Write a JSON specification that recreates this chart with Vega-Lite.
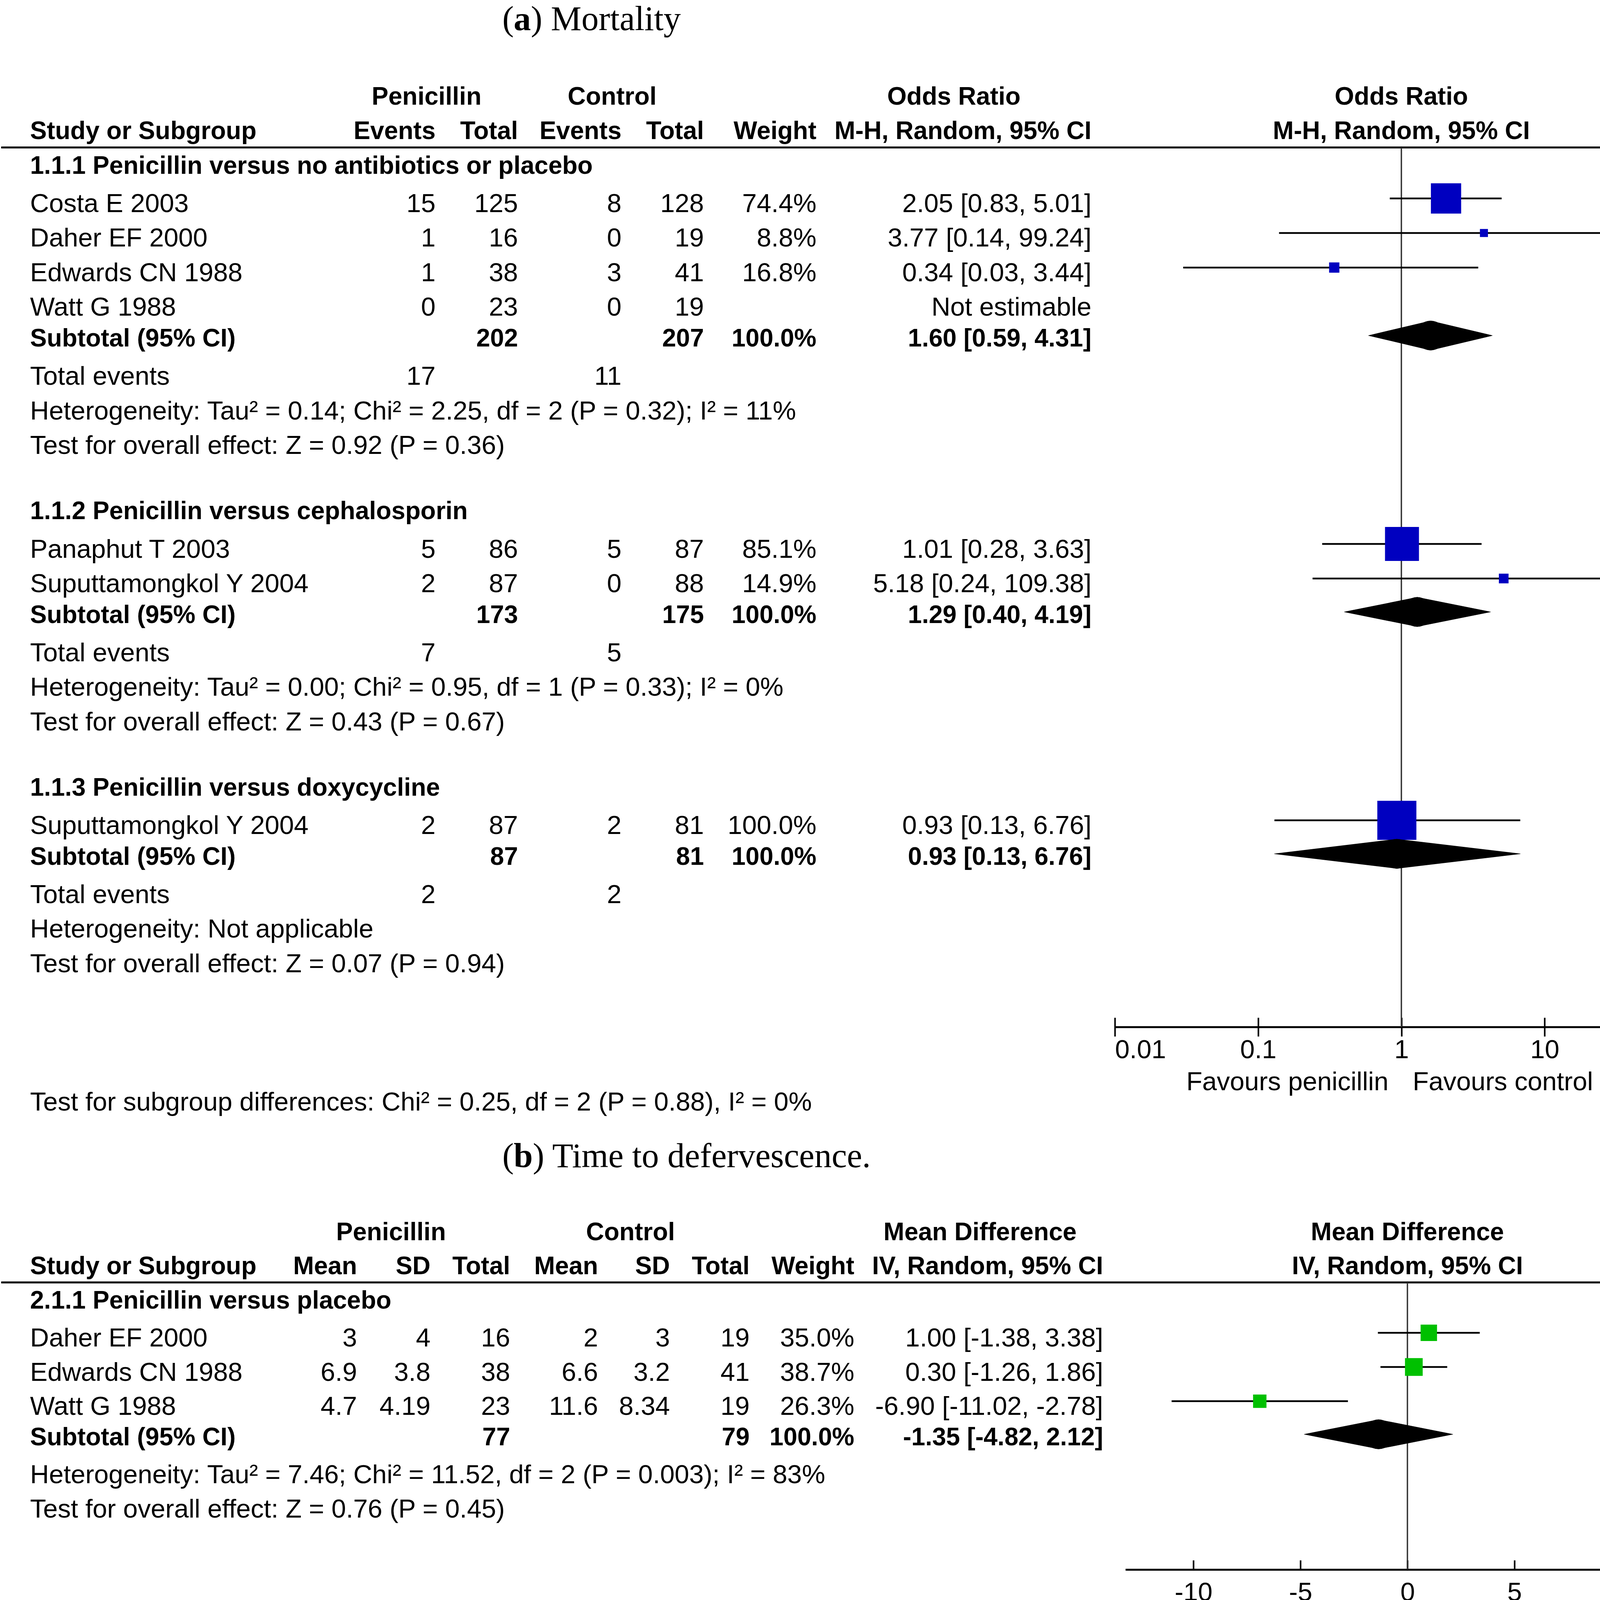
{
  "$schema": "https://vega.github.io/schema/vega-lite/v6.json",
  "width": 4404,
  "height": 5250,
  "autosize": {"type": "fit", "contains": "padding"},
  "padding": 0,
  "background": "white",
  "config": {"view": {"stroke": null}, "axis": {"grid": false}},
  "datasets": {
    "cellsA": [
      {"r": -4.34, "c": 10, "t": "(", "k": "ti"},
      {"r": -4.34, "c": 11, "t": "a", "k": "tb"},
      {"r": -4.34, "c": 12, "t": ") Mortality", "k": "ti"},
      {"r": -2.1, "c": 7, "t": "Penicillin", "k": "hg"},
      {"r": -2.1, "c": 8, "t": "Control", "k": "hg"},
      {"r": -2.1, "c": 9, "t": "Odds Ratio", "k": "hg"},
      {"r": -2.1, "t": "Odds Ratio", "k": "ph"},
      {"r": -1.1, "c": 0, "t": "Study or Subgroup", "k": "hd"},
      {"r": -1.1, "c": 1, "t": "Events", "k": "hd"},
      {"r": -1.1, "c": 2, "t": "Total", "k": "hd"},
      {"r": -1.1, "c": 3, "t": "Events", "k": "hd"},
      {"r": -1.1, "c": 4, "t": "Total", "k": "hd"},
      {"r": -1.1, "c": 5, "t": "Weight", "k": "hd"},
      {"r": -1.1, "c": 6, "t": "M-H, Random, 95% CI", "k": "hd"},
      {"r": -1.1, "t": "M-H, Random, 95% CI", "k": "ph"},
      {"r": -0.6, "k": "rule"},
      {"r": -0.6, "r2": 24.855, "k": "zero"},
      {"r": -0.1, "c": 0, "t": "1.1.1 Penicillin versus no antibiotics or placebo", "k": "sg"},
      {"r": 1, "c": 0, "t": "Costa E 2003", "k": "st"},
      {"r": 1, "c": 1, "t": "15", "k": "st"},
      {"r": 1, "c": 2, "t": "125", "k": "st"},
      {"r": 1, "c": 3, "t": "8", "k": "st"},
      {"r": 1, "c": 4, "t": "128", "k": "st"},
      {"r": 1, "c": 5, "t": "74.4%", "k": "st"},
      {"r": 1, "c": 6, "t": "2.05 [0.83, 5.01]", "k": "st"},
      {"r": 2, "c": 0, "t": "Daher EF 2000", "k": "st"},
      {"r": 2, "c": 1, "t": "1", "k": "st"},
      {"r": 2, "c": 2, "t": "16", "k": "st"},
      {"r": 2, "c": 3, "t": "0", "k": "st"},
      {"r": 2, "c": 4, "t": "19", "k": "st"},
      {"r": 2, "c": 5, "t": "8.8%", "k": "st"},
      {"r": 2, "c": 6, "t": "3.77 [0.14, 99.24]", "k": "st"},
      {"r": 3, "c": 0, "t": "Edwards CN 1988", "k": "st"},
      {"r": 3, "c": 1, "t": "1", "k": "st"},
      {"r": 3, "c": 2, "t": "38", "k": "st"},
      {"r": 3, "c": 3, "t": "3", "k": "st"},
      {"r": 3, "c": 4, "t": "41", "k": "st"},
      {"r": 3, "c": 5, "t": "16.8%", "k": "st"},
      {"r": 3, "c": 6, "t": "0.34 [0.03, 3.44]", "k": "st"},
      {"r": 4, "c": 0, "t": "Watt G 1988", "k": "st"},
      {"r": 4, "c": 1, "t": "0", "k": "st"},
      {"r": 4, "c": 2, "t": "23", "k": "st"},
      {"r": 4, "c": 3, "t": "0", "k": "st"},
      {"r": 4, "c": 4, "t": "19", "k": "st"},
      {"r": 4, "c": 6, "t": "Not estimable", "k": "st"},
      {"r": 4.9, "c": 0, "t": "Subtotal (95% CI)", "k": "sub"},
      {"r": 4.9, "c": 2, "t": "202", "k": "sub"},
      {"r": 4.9, "c": 4, "t": "207", "k": "sub"},
      {"r": 4.9, "c": 5, "t": "100.0%", "k": "sub"},
      {"r": 4.9, "c": 6, "t": "1.60 [0.59, 4.31]", "k": "sub"},
      {"r": 6, "c": 0, "t": "Total events", "k": "ev"},
      {"r": 6, "c": 1, "t": "17", "k": "ev"},
      {"r": 6, "c": 3, "t": "11", "k": "ev"},
      {"r": 7, "c": 0, "t": "Heterogeneity: Tau² = 0.14; Chi² = 2.25, df = 2 (P = 0.32); I² = 11%", "k": "nt"},
      {"r": 8, "c": 0, "t": "Test for overall effect: Z = 0.92 (P = 0.36)", "k": "nt"},
      {"r": 9.9, "c": 0, "t": "1.1.2 Penicillin versus cephalosporin", "k": "sg"},
      {"r": 11, "c": 0, "t": "Panaphut T 2003", "k": "st"},
      {"r": 11, "c": 1, "t": "5", "k": "st"},
      {"r": 11, "c": 2, "t": "86", "k": "st"},
      {"r": 11, "c": 3, "t": "5", "k": "st"},
      {"r": 11, "c": 4, "t": "87", "k": "st"},
      {"r": 11, "c": 5, "t": "85.1%", "k": "st"},
      {"r": 11, "c": 6, "t": "1.01 [0.28, 3.63]", "k": "st"},
      {"r": 12, "c": 0, "t": "Suputtamongkol Y 2004", "k": "st"},
      {"r": 12, "c": 1, "t": "2", "k": "st"},
      {"r": 12, "c": 2, "t": "87", "k": "st"},
      {"r": 12, "c": 3, "t": "0", "k": "st"},
      {"r": 12, "c": 4, "t": "88", "k": "st"},
      {"r": 12, "c": 5, "t": "14.9%", "k": "st"},
      {"r": 12, "c": 6, "t": "5.18 [0.24, 109.38]", "k": "st"},
      {"r": 12.9, "c": 0, "t": "Subtotal (95% CI)", "k": "sub"},
      {"r": 12.9, "c": 2, "t": "173", "k": "sub"},
      {"r": 12.9, "c": 4, "t": "175", "k": "sub"},
      {"r": 12.9, "c": 5, "t": "100.0%", "k": "sub"},
      {"r": 12.9, "c": 6, "t": "1.29 [0.40, 4.19]", "k": "sub"},
      {"r": 14, "c": 0, "t": "Total events", "k": "ev"},
      {"r": 14, "c": 1, "t": "7", "k": "ev"},
      {"r": 14, "c": 3, "t": "5", "k": "ev"},
      {"r": 15, "c": 0, "t": "Heterogeneity: Tau² = 0.00; Chi² = 0.95, df = 1 (P = 0.33); I² = 0%", "k": "nt"},
      {"r": 16, "c": 0, "t": "Test for overall effect: Z = 0.43 (P = 0.67)", "k": "nt"},
      {"r": 17.9, "c": 0, "t": "1.1.3 Penicillin versus doxycycline", "k": "sg"},
      {"r": 19, "c": 0, "t": "Suputtamongkol Y 2004", "k": "st"},
      {"r": 19, "c": 1, "t": "2", "k": "st"},
      {"r": 19, "c": 2, "t": "87", "k": "st"},
      {"r": 19, "c": 3, "t": "2", "k": "st"},
      {"r": 19, "c": 4, "t": "81", "k": "st"},
      {"r": 19, "c": 5, "t": "100.0%", "k": "st"},
      {"r": 19, "c": 6, "t": "0.93 [0.13, 6.76]", "k": "st"},
      {"r": 19.9, "c": 0, "t": "Subtotal (95% CI)", "k": "sub"},
      {"r": 19.9, "c": 2, "t": "87", "k": "sub"},
      {"r": 19.9, "c": 4, "t": "81", "k": "sub"},
      {"r": 19.9, "c": 5, "t": "100.0%", "k": "sub"},
      {"r": 19.9, "c": 6, "t": "0.93 [0.13, 6.76]", "k": "sub"},
      {"r": 21, "c": 0, "t": "Total events", "k": "ev"},
      {"r": 21, "c": 1, "t": "2", "k": "ev"},
      {"r": 21, "c": 3, "t": "2", "k": "ev"},
      {"r": 22, "c": 0, "t": "Heterogeneity: Not applicable", "k": "nt"},
      {"r": 23, "c": 0, "t": "Test for overall effect: Z = 0.07 (P = 0.94)", "k": "nt"},
      {"r": 27, "c": 0, "t": "Test for subgroup differences: Chi² = 0.25, df = 2 (P = 0.88), I² = 0%", "k": "nt"},
      {"r": 26.42, "c": 0, "t": "Favours penicillin", "k": "fav"},
      {"r": 26.42, "c": 1, "t": "Favours control", "k": "fav"}
    ],
    "studA": [
      {"r": 1, "est": 2.05, "lo": 0.83, "hi": 5.01, "w": 74.4},
      {"r": 2, "est": 3.77, "lo": 0.14, "hi": 99.24, "w": 8.8},
      {"r": 3, "est": 0.34, "lo": 0.03, "hi": 3.44, "w": 16.8},
      {"r": 11, "est": 1.01, "lo": 0.28, "hi": 3.63, "w": 85.1},
      {"r": 12, "est": 5.18, "lo": 0.24, "hi": 109.38, "w": 14.9},
      {"r": 19, "est": 0.93, "lo": 0.13, "hi": 6.76, "w": 100}
    ],
    "sumA": [
      {"r": 4.9, "est": 1.6, "lo": 0.59, "hi": 4.31},
      {"r": 12.9, "est": 1.29, "lo": 0.4, "hi": 4.19},
      {"r": 19.9, "est": 0.93, "lo": 0.13, "hi": 6.76}
    ],
    "cellsB": [
      {"r": -4.31, "c": 12, "t": "(", "k": "ti"},
      {"r": -4.31, "c": 13, "t": "b", "k": "tb"},
      {"r": -4.31, "c": 14, "t": ") Time to defervescence.", "k": "ti"},
      {"r": -2.1, "c": 9, "t": "Penicillin", "k": "hg"},
      {"r": -2.1, "c": 10, "t": "Control", "k": "hg"},
      {"r": -2.1, "c": 11, "t": "Mean Difference", "k": "hg"},
      {"r": -2.1, "t": "Mean Difference", "k": "ph"},
      {"r": -1.1, "c": 0, "t": "Study or Subgroup", "k": "hd"},
      {"r": -1.1, "c": 1, "t": "Mean", "k": "hd"},
      {"r": -1.1, "c": 2, "t": "SD", "k": "hd"},
      {"r": -1.1, "c": 3, "t": "Total", "k": "hd"},
      {"r": -1.1, "c": 4, "t": "Mean", "k": "hd"},
      {"r": -1.1, "c": 5, "t": "SD", "k": "hd"},
      {"r": -1.1, "c": 6, "t": "Total", "k": "hd"},
      {"r": -1.1, "c": 7, "t": "Weight", "k": "hd"},
      {"r": -1.1, "c": 8, "t": "IV, Random, 95% CI", "k": "hd"},
      {"r": -1.1, "t": "IV, Random, 95% CI", "k": "ph"},
      {"r": -0.6, "k": "rule"},
      {"r": -0.6, "r2": 7.8, "k": "zero"},
      {"r": -0.1, "c": 0, "t": "2.1.1 Penicillin versus placebo", "k": "sg"},
      {"r": 1, "c": 0, "t": "Daher EF 2000", "k": "st"},
      {"r": 1, "c": 1, "t": "3", "k": "st"},
      {"r": 1, "c": 2, "t": "4", "k": "st"},
      {"r": 1, "c": 3, "t": "16", "k": "st"},
      {"r": 1, "c": 4, "t": "2", "k": "st"},
      {"r": 1, "c": 5, "t": "3", "k": "st"},
      {"r": 1, "c": 6, "t": "19", "k": "st"},
      {"r": 1, "c": 7, "t": "35.0%", "k": "st"},
      {"r": 1, "c": 8, "t": "1.00 [-1.38, 3.38]", "k": "st"},
      {"r": 2, "c": 0, "t": "Edwards CN 1988", "k": "st"},
      {"r": 2, "c": 1, "t": "6.9", "k": "st"},
      {"r": 2, "c": 2, "t": "3.8", "k": "st"},
      {"r": 2, "c": 3, "t": "38", "k": "st"},
      {"r": 2, "c": 4, "t": "6.6", "k": "st"},
      {"r": 2, "c": 5, "t": "3.2", "k": "st"},
      {"r": 2, "c": 6, "t": "41", "k": "st"},
      {"r": 2, "c": 7, "t": "38.7%", "k": "st"},
      {"r": 2, "c": 8, "t": "0.30 [-1.26, 1.86]", "k": "st"},
      {"r": 3, "c": 0, "t": "Watt G 1988", "k": "st"},
      {"r": 3, "c": 1, "t": "4.7", "k": "st"},
      {"r": 3, "c": 2, "t": "4.19", "k": "st"},
      {"r": 3, "c": 3, "t": "23", "k": "st"},
      {"r": 3, "c": 4, "t": "11.6", "k": "st"},
      {"r": 3, "c": 5, "t": "8.34", "k": "st"},
      {"r": 3, "c": 6, "t": "19", "k": "st"},
      {"r": 3, "c": 7, "t": "26.3%", "k": "st"},
      {"r": 3, "c": 8, "t": "-6.90 [-11.02, -2.78]", "k": "st"},
      {"r": 3.9, "c": 0, "t": "Subtotal (95% CI)", "k": "sub"},
      {"r": 3.9, "c": 3, "t": "77", "k": "sub"},
      {"r": 3.9, "c": 6, "t": "79", "k": "sub"},
      {"r": 3.9, "c": 7, "t": "100.0%", "k": "sub"},
      {"r": 3.9, "c": 8, "t": "-1.35 [-4.82, 2.12]", "k": "sub"},
      {"r": 5, "c": 0, "t": "Heterogeneity: Tau² = 7.46; Chi² = 11.52, df = 2 (P = 0.003); I² = 83%", "k": "nt"},
      {"r": 6, "c": 0, "t": "Test for overall effect: Z = 0.76 (P = 0.45)", "k": "nt"},
      {"r": 9.95, "c": 0, "t": "Test for subgroup differences: Not applicable", "k": "nt"},
      {"r": 9.32, "c": 0, "t": "Favours penicillin", "k": "fav"},
      {"r": 9.32, "c": 1, "t": "Favours control", "k": "fav"}
    ],
    "studB": [
      {"r": 1, "est": 1.0, "lo": -1.38, "hi": 3.38, "w": 35.0},
      {"r": 2, "est": 0.3, "lo": -1.26, "hi": 1.86, "w": 38.7},
      {"r": 3, "est": -6.9, "lo": -11.02, "hi": -2.78, "w": 26.3}
    ],
    "sumB": [
      {"r": 3.9, "est": -1.35, "lo": -4.82, "hi": 2.12}
    ],
    "cellsC": [
      {"r": -3.39, "c": 12, "t": "(", "k": "ti"},
      {"r": -3.39, "c": 13, "t": "c", "k": "tb"},
      {"r": -3.39, "c": 14, "t": ") Hospital stay.", "k": "ti"},
      {"r": -1.1, "c": 9, "t": "Penicillin", "k": "hg"},
      {"r": -1.1, "c": 10, "t": "Control", "k": "hg"},
      {"r": -1.1, "c": 11, "t": "Mean Difference", "k": "hg"},
      {"r": -1.1, "t": "Mean Difference", "k": "ph"},
      {"r": -0.1, "c": 0, "t": "Study or Subgroup", "k": "hd"},
      {"r": -0.1, "c": 1, "t": "Mean", "k": "hd"},
      {"r": -0.1, "c": 2, "t": "SD", "k": "hd"},
      {"r": -0.1, "c": 3, "t": "Total", "k": "hd"},
      {"r": -0.1, "c": 4, "t": "Mean", "k": "hd"},
      {"r": -0.1, "c": 5, "t": "SD", "k": "hd"},
      {"r": -0.1, "c": 6, "t": "Total", "k": "hd"},
      {"r": -0.1, "c": 7, "t": "Weight", "k": "hd"},
      {"r": -0.1, "c": 8, "t": "IV, Random, 95% CI", "k": "hd"},
      {"r": -0.1, "t": "IV, Random, 95% CI", "k": "ph"},
      {"r": 0.4, "k": "rule"},
      {"r": 0.4, "r2": 4.92, "k": "zero"},
      {"r": 1, "c": 0, "t": "Costa E 2003", "k": "st"},
      {"r": 1, "c": 1, "t": "8.9", "k": "st"},
      {"r": 1, "c": 2, "t": "3.9", "k": "st"},
      {"r": 1, "c": 3, "t": "120", "k": "st"},
      {"r": 1, "c": 4, "t": "8.8", "k": "st"},
      {"r": 1, "c": 5, "t": "3.6", "k": "st"},
      {"r": 1, "c": 6, "t": "128", "k": "st"},
      {"r": 1, "c": 7, "t": "94.0%", "k": "st"},
      {"r": 1, "c": 8, "t": "0.10 [-0.84, 1.04]", "k": "st"},
      {"r": 2, "c": 0, "t": "Daher EF 2000", "k": "st"},
      {"r": 2, "c": 1, "t": "12", "k": "st"},
      {"r": 2, "c": 2, "t": "6", "k": "st"},
      {"r": 2, "c": 3, "t": "16", "k": "st"},
      {"r": 2, "c": 4, "t": "11", "k": "st"},
      {"r": 2, "c": 5, "t": "5", "k": "st"},
      {"r": 2, "c": 6, "t": "19", "k": "st"},
      {"r": 2, "c": 7, "t": "6.0%", "k": "st"},
      {"r": 2, "c": 8, "t": "1.00 [-2.70, 4.70]", "k": "st"},
      {"r": 3.9, "c": 0, "t": "Total (95% CI)", "k": "sub"},
      {"r": 3.9, "c": 3, "t": "136", "k": "sub"},
      {"r": 3.9, "c": 6, "t": "147", "k": "sub"},
      {"r": 3.9, "c": 7, "t": "100.0%", "k": "sub"},
      {"r": 3.9, "c": 8, "t": "0.15 [-0.75, 1.06]", "k": "sub"},
      {"r": 5, "c": 0, "t": "Heterogeneity: Tau² = 0.00; Chi² = 0.21, df = 1 (P = 0.64); I² = 0%", "k": "nt"},
      {"r": 6, "c": 0, "t": "Test for overall effect: Z = 0.33 (P = 0.74)", "k": "nt"},
      {"r": 6.41, "c": 0, "t": "Favours Penicillin", "k": "fav"},
      {"r": 6.41, "c": 1, "t": "Favours control", "k": "fav"}
    ],
    "studC": [
      {"r": 1, "est": 0.1, "lo": -0.84, "hi": 1.04, "w": 94.0},
      {"r": 2, "est": 1.0, "lo": -2.7, "hi": 4.7, "w": 6.0}
    ],
    "sumC": [
      {"r": 3.9, "est": 0.15, "lo": -0.75, "hi": 1.06}
    ]
  },
  "resolve": {"scale": {"x": "independent", "y": "independent", "size": "independent"}, "axis": {"x": "independent", "y": "independent"}},
  "layer": [
    {
      "encoding": {"y": {"field": "r", "type": "quantitative", "scale": {"domain": [-4.868, 27.693], "range": [0, 2880], "nice": false, "zero": false}, "axis": null}},
      "resolve": {"scale": {"x": "independent", "size": "independent"}, "axis": {"x": "independent"}},
      "layer": [
        {
          "data": {"name": "cellsA"},
          "layer": [
            {"transform": [{"filter": "datum.k=='rule'"}], "mark": {"type": "rule", "strokeWidth": 5, "color": "#000"}},
            {"transform": [{"filter": "(datum.k=='st'||datum.k=='ev'||datum.k=='nt')&&datum.c==0"}],
             "mark": {"type": "text", "align": "left", "baseline": "middle", "dy": 4, "font": "Liberation Sans", "fontSize": 67, "color": "#000"},
             "encoding": {"x": {"field": "c", "type": "quantitative", "scale": {"domain": [0,1,2,3,4,5,6,7,8,9,10,11,12], "range": [74,1112,1323,1588,1799,2087,2791,1089,1564,2439,1283,1312,1356], "nice": false, "zero": false}, "axis": null}, "text": {"field": "t"}}},
            {"transform": [{"filter": "(datum.k=='hd'||datum.k=='sg'||datum.k=='sub')&&datum.c==0"}],
             "mark": {"type": "text", "align": "left", "baseline": "middle", "dy": 4, "font": "Liberation Sans", "fontSize": 64, "fontWeight": "bold", "color": "#000"},
             "encoding": {"x": {"field": "c", "type": "quantitative", "axis": null}, "text": {"field": "t"}}},
            {"transform": [{"filter": "(datum.k=='st'||datum.k=='ev')&&datum.c>0"}],
             "mark": {"type": "text", "align": "right", "baseline": "middle", "dy": 4, "font": "Liberation Sans", "fontSize": 67, "color": "#000"},
             "encoding": {"x": {"field": "c", "type": "quantitative", "axis": null}, "text": {"field": "t"}}},
            {"transform": [{"filter": "(datum.k=='hd'||datum.k=='sub')&&datum.c>0"}],
             "mark": {"type": "text", "align": "right", "baseline": "middle", "dy": 4, "font": "Liberation Sans", "fontSize": 64, "fontWeight": "bold", "color": "#000"},
             "encoding": {"x": {"field": "c", "type": "quantitative", "axis": null}, "text": {"field": "t"}}},
            {"transform": [{"filter": "datum.k=='hg'"}],
             "mark": {"type": "text", "align": "center", "baseline": "middle", "dy": 4, "font": "Liberation Sans", "fontSize": 64, "fontWeight": "bold", "color": "#000"},
             "encoding": {"x": {"field": "c", "type": "quantitative", "axis": null}, "text": {"field": "t"}}},
            {"transform": [{"filter": "datum.k=='ti'"}],
             "mark": {"type": "text", "align": "left", "baseline": "middle", "dy": 4, "font": "Liberation Serif", "fontSize": 88, "color": "#000"},
             "encoding": {"x": {"field": "c", "type": "quantitative", "axis": null}, "text": {"field": "t"}}},
            {"transform": [{"filter": "datum.k=='tb'"}],
             "mark": {"type": "text", "align": "left", "baseline": "middle", "dy": 4, "font": "Liberation Serif", "fontSize": 88, "fontWeight": "bold", "color": "#000"},
             "encoding": {"x": {"field": "c", "type": "quantitative", "axis": null}, "text": {"field": "t"}}}
          ]
        },
        {
          "resolve": {"scale": {"size": "independent"}, "axis": {"x": "independent"}},
          "layer": [
            {"data": {"name": "cellsA"}, "transform": [{"filter": "datum.k=='ph'"}],
             "mark": {"type": "text", "align": "center", "baseline": "middle", "dy": 4, "font": "Liberation Sans", "fontSize": 64, "fontWeight": "bold", "color": "#000"},
             "encoding": {"x": {"datum": 1, "type": "quantitative", "scale": {"type": "log", "domain": [0.01, 100], "range": [2851, 4318], "clamp": true, "nice": false}, "axis": null}, "text": {"field": "t"}}},
            {"data": {"name": "cellsA"}, "transform": [{"filter": "datum.k=='fav'&&datum.c==0"}],
             "mark": {"type": "text", "align": "right", "baseline": "middle", "dy": 4, "dx": -33, "font": "Liberation Sans", "fontSize": 67, "color": "#000"},
             "encoding": {"x": {"datum": 1, "type": "quantitative", "axis": null}, "text": {"field": "t"}}},
            {"data": {"name": "cellsA"}, "transform": [{"filter": "datum.k=='fav'&&datum.c==1"}],
             "mark": {"type": "text", "align": "left", "baseline": "middle", "dy": 4, "dx": 29, "font": "Liberation Sans", "fontSize": 67, "color": "#000"},
             "encoding": {"x": {"datum": 1, "type": "quantitative", "axis": null}, "text": {"field": "t"}}},
            {"data": {"name": "cellsA"}, "transform": [{"filter": "datum.k=='zero'"}],
             "mark": {"type": "rule", "strokeWidth": 3.5, "color": "#333"},
             "encoding": {"x": {"datum": 1, "type": "quantitative", "axis": null}, "y2": {"field": "r2"}}},
            {"data": {"name": "studA"},
             "mark": {"type": "rule", "strokeWidth": 4.5, "color": "#000", "yOffset": -11},
             "encoding": {"x": {"field": "lo", "type": "quantitative",
               "axis": {"orient": "bottom", "offset": -2645, "domain": false, "ticks": true, "tickSize": 48, "tickWidth": 4, "tickColor": "#000", "grid": false, "values": [0.01, 0.1, 1, 10, 100], "format": "~g", "labelFont": "Liberation Sans", "labelFontSize": 67, "labelColor": "#000", "labelPadding": 2, "labelFlush": true, "labelOverlap": false, "title": null}},
               "x2": {"field": "hi"}}},
            {"data": {"name": "studA"},
             "mark": {"type": "point", "shape": "square", "filled": true, "opacity": 1, "color": "#0000c0", "strokeWidth": 0, "yOffset": -11},
             "encoding": {"x": {"field": "est", "type": "quantitative",
               "axis": {"orient": "bottom", "offset": -2621, "domain": true, "domainWidth": 5, "domainColor": "#000", "ticks": false, "labels": false, "grid": false, "title": null}},
               "size": {"field": "w", "type": "quantitative", "scale": {"type": "pow", "exponent": 1.8, "domain": [0, 100], "range": [300, 10000]}, "legend": null}}},
            {"data": {"name": "studA"}, "transform": [{"filter": "datum.hi > 100"}],
             "mark": {"type": "point", "shape": "M0,0L-1,-0.88L-1,0.88Z", "filled": true, "opacity": 1, "color": "#000", "strokeWidth": 0, "size": 2500, "yOffset": -11},
             "encoding": {"x": {"field": "hi", "type": "quantitative", "axis": null}}},
            {"data": {"name": "sumA"}, "transform": [{"fold": ["lo", "est"], "as": ["key", "v"]}],
             "mark": {"type": "trail", "color": "#000", "yOffset": -5},
             "encoding": {"x": {"field": "v", "type": "quantitative", "axis": null},
               "detail": {"field": "r", "type": "nominal"}, "order": {"field": "v", "type": "quantitative"},
               "size": {"field": "key", "type": "ordinal", "scale": {"type": "point", "domain": ["lo", "est"], "range": [0, 76], "padding": 0}, "legend": null}}},
            {"data": {"name": "sumA"}, "transform": [{"fold": ["est", "hi"], "as": ["key", "v"]}],
             "mark": {"type": "trail", "color": "#000", "yOffset": -5},
             "encoding": {"x": {"field": "v", "type": "quantitative", "axis": null},
               "detail": {"field": "r", "type": "nominal"}, "order": {"field": "v", "type": "quantitative"},
               "size": {"field": "key", "type": "ordinal", "scale": {"type": "point", "domain": ["hi", "est"], "range": [0, 76], "padding": 0}, "legend": null}}}
          ]
        }
      ]
    },
    {
      "encoding": {"y": {"field": "r", "type": "quantitative", "scale": {"domain": [-5.206, 10.908], "range": [2880, 4290], "nice": false, "zero": false}, "axis": null}},
      "resolve": {"scale": {"x": "independent", "size": "independent"}, "axis": {"x": "independent"}},
      "layer": [
        {
          "data": {"name": "cellsB"},
          "layer": [
            {"transform": [{"filter": "datum.k=='rule'"}], "mark": {"type": "rule", "strokeWidth": 5, "color": "#000"}},
            {"transform": [{"filter": "(datum.k=='st'||datum.k=='ev'||datum.k=='nt')&&datum.c==0"}],
             "mark": {"type": "text", "align": "left", "baseline": "middle", "dy": 4, "font": "Liberation Sans", "fontSize": 67, "color": "#000"},
             "encoding": {"x": {"field": "c", "type": "quantitative", "scale": {"domain": [0,1,2,3,4,5,6,7,8,9,10,11,12,13,14], "range": [74,911,1099,1303,1528,1712,1916,2184,2821,998,1611,2506,1283,1312,1361], "nice": false, "zero": false}, "axis": null}, "text": {"field": "t"}}},
            {"transform": [{"filter": "(datum.k=='hd'||datum.k=='sg'||datum.k=='sub')&&datum.c==0"}],
             "mark": {"type": "text", "align": "left", "baseline": "middle", "dy": 4, "font": "Liberation Sans", "fontSize": 64, "fontWeight": "bold", "color": "#000"},
             "encoding": {"x": {"field": "c", "type": "quantitative", "axis": null}, "text": {"field": "t"}}},
            {"transform": [{"filter": "(datum.k=='st'||datum.k=='ev')&&datum.c>0"}],
             "mark": {"type": "text", "align": "right", "baseline": "middle", "dy": 4, "font": "Liberation Sans", "fontSize": 67, "color": "#000"},
             "encoding": {"x": {"field": "c", "type": "quantitative", "axis": null}, "text": {"field": "t"}}},
            {"transform": [{"filter": "(datum.k=='hd'||datum.k=='sub')&&datum.c>0"}],
             "mark": {"type": "text", "align": "right", "baseline": "middle", "dy": 4, "font": "Liberation Sans", "fontSize": 64, "fontWeight": "bold", "color": "#000"},
             "encoding": {"x": {"field": "c", "type": "quantitative", "axis": null}, "text": {"field": "t"}}},
            {"transform": [{"filter": "datum.k=='hg'"}],
             "mark": {"type": "text", "align": "center", "baseline": "middle", "dy": 4, "font": "Liberation Sans", "fontSize": 64, "fontWeight": "bold", "color": "#000"},
             "encoding": {"x": {"field": "c", "type": "quantitative", "axis": null}, "text": {"field": "t"}}},
            {"transform": [{"filter": "datum.k=='ti'"}],
             "mark": {"type": "text", "align": "left", "baseline": "middle", "dy": 4, "font": "Liberation Serif", "fontSize": 88, "color": "#000"},
             "encoding": {"x": {"field": "c", "type": "quantitative", "axis": null}, "text": {"field": "t"}}},
            {"transform": [{"filter": "datum.k=='tb'"}],
             "mark": {"type": "text", "align": "left", "baseline": "middle", "dy": 4, "font": "Liberation Serif", "fontSize": 88, "fontWeight": "bold", "color": "#000"},
             "encoding": {"x": {"field": "c", "type": "quantitative", "axis": null}, "text": {"field": "t"}}}
          ]
        },
        {
          "resolve": {"scale": {"size": "independent"}, "axis": {"x": "independent"}},
          "layer": [
            {"data": {"name": "cellsB"}, "transform": [{"filter": "datum.k=='ph'"}],
             "mark": {"type": "text", "align": "center", "baseline": "middle", "dy": 4, "font": "Liberation Sans", "fontSize": 64, "fontWeight": "bold", "color": "#000"},
             "encoding": {"x": {"datum": 0, "type": "quantitative", "scale": {"domain": [-13.18, 13.18], "range": [2878, 4322], "clamp": true, "nice": false, "zero": false}, "axis": null}, "text": {"field": "t"}}},
            {"data": {"name": "cellsB"}, "transform": [{"filter": "datum.k=='fav'&&datum.c==0"}],
             "mark": {"type": "text", "align": "right", "baseline": "middle", "dy": 4, "dx": -33, "font": "Liberation Sans", "fontSize": 67, "color": "#000"},
             "encoding": {"x": {"datum": 0, "type": "quantitative", "axis": null}, "text": {"field": "t"}}},
            {"data": {"name": "cellsB"}, "transform": [{"filter": "datum.k=='fav'&&datum.c==1"}],
             "mark": {"type": "text", "align": "left", "baseline": "middle", "dy": 4, "dx": 29, "font": "Liberation Sans", "fontSize": 67, "color": "#000"},
             "encoding": {"x": {"datum": 0, "type": "quantitative", "axis": null}, "text": {"field": "t"}}},
            {"data": {"name": "cellsB"}, "transform": [{"filter": "datum.k=='zero'"}],
             "mark": {"type": "rule", "strokeWidth": 3.5, "color": "#333"},
             "encoding": {"x": {"datum": 0, "type": "quantitative", "axis": null}, "y2": {"field": "r2"}}},
            {"data": {"name": "studB"},
             "mark": {"type": "rule", "strokeWidth": 4.5, "color": "#000", "yOffset": -11},
             "encoding": {"x": {"field": "lo", "type": "quantitative",
               "axis": {"orient": "bottom", "offset": -1256, "domain": false, "ticks": true, "tickSize": 24, "tickWidth": 4, "tickColor": "#000", "grid": false, "values": [-10, -5, 0, 5, 10], "labelExpr": "datum.value < 0 ? '-' + abs(datum.value) : '' + datum.value", "labelFont": "Liberation Sans", "labelFontSize": 67, "labelColor": "#000", "labelPadding": 26, "labelFlush": false, "labelOverlap": false, "title": null}},
               "x2": {"field": "hi"}}},
            {"data": {"name": "studB"},
             "mark": {"type": "point", "shape": "square", "filled": true, "opacity": 1, "color": "#00c000", "strokeWidth": 0, "yOffset": -11},
             "encoding": {"x": {"field": "est", "type": "quantitative",
               "axis": {"orient": "bottom", "offset": -1232, "domain": true, "domainWidth": 5, "domainColor": "#000", "ticks": false, "labels": false, "grid": false, "title": null}},
               "size": {"field": "w", "type": "quantitative", "scale": {"type": "pow", "exponent": 1.8, "domain": [0, 100], "range": [300, 10000]}, "legend": null}}},
            {"data": {"name": "sumB"}, "transform": [{"fold": ["lo", "est"], "as": ["key", "v"]}],
             "mark": {"type": "trail", "color": "#000", "yOffset": -5},
             "encoding": {"x": {"field": "v", "type": "quantitative", "axis": null},
               "detail": {"field": "r", "type": "nominal"}, "order": {"field": "v", "type": "quantitative"},
               "size": {"field": "key", "type": "ordinal", "scale": {"type": "point", "domain": ["lo", "est"], "range": [0, 76], "padding": 0}, "legend": null}}},
            {"data": {"name": "sumB"}, "transform": [{"fold": ["est", "hi"], "as": ["key", "v"]}],
             "mark": {"type": "trail", "color": "#000", "yOffset": -5},
             "encoding": {"x": {"field": "v", "type": "quantitative", "axis": null},
               "detail": {"field": "r", "type": "nominal"}, "order": {"field": "v", "type": "quantitative"},
               "size": {"field": "key", "type": "ordinal", "scale": {"type": "point", "domain": ["hi", "est"], "range": [0, 76], "padding": 0}, "legend": null}}}
          ]
        }
      ]
    },
    {
      "encoding": {"y": {"field": "r", "type": "quantitative", "scale": {"domain": [-3.886, 7.023], "range": [4290, 5250], "nice": false, "zero": false}, "axis": null}},
      "resolve": {"scale": {"x": "independent", "size": "independent"}, "axis": {"x": "independent"}},
      "layer": [
        {
          "data": {"name": "cellsC"},
          "layer": [
            {"transform": [{"filter": "datum.k=='rule'"}], "mark": {"type": "rule", "strokeWidth": 5, "color": "#000"}},
            {"transform": [{"filter": "(datum.k=='st'||datum.k=='ev'||datum.k=='nt')&&datum.c==0"}],
             "mark": {"type": "text", "align": "left", "baseline": "middle", "dy": 4, "font": "Liberation Sans", "fontSize": 67, "color": "#000"},
             "encoding": {"x": {"field": "c", "type": "quantitative", "scale": {"domain": [0,1,2,3,4,5,6,7,8,9,10,11,12,13,14], "range": [74,922,1075,1286,1511,1652,1873,2144,2791,998,1583,2469,1283,1312,1351], "nice": false, "zero": false}, "axis": null}, "text": {"field": "t"}}},
            {"transform": [{"filter": "(datum.k=='hd'||datum.k=='sg'||datum.k=='sub')&&datum.c==0"}],
             "mark": {"type": "text", "align": "left", "baseline": "middle", "dy": 4, "font": "Liberation Sans", "fontSize": 64, "fontWeight": "bold", "color": "#000"},
             "encoding": {"x": {"field": "c", "type": "quantitative", "axis": null}, "text": {"field": "t"}}},
            {"transform": [{"filter": "(datum.k=='st'||datum.k=='ev')&&datum.c>0"}],
             "mark": {"type": "text", "align": "right", "baseline": "middle", "dy": 4, "font": "Liberation Sans", "fontSize": 67, "color": "#000"},
             "encoding": {"x": {"field": "c", "type": "quantitative", "axis": null}, "text": {"field": "t"}}},
            {"transform": [{"filter": "(datum.k=='hd'||datum.k=='sub')&&datum.c>0"}],
             "mark": {"type": "text", "align": "right", "baseline": "middle", "dy": 4, "font": "Liberation Sans", "fontSize": 64, "fontWeight": "bold", "color": "#000"},
             "encoding": {"x": {"field": "c", "type": "quantitative", "axis": null}, "text": {"field": "t"}}},
            {"transform": [{"filter": "datum.k=='hg'"}],
             "mark": {"type": "text", "align": "center", "baseline": "middle", "dy": 4, "font": "Liberation Sans", "fontSize": 64, "fontWeight": "bold", "color": "#000"},
             "encoding": {"x": {"field": "c", "type": "quantitative", "axis": null}, "text": {"field": "t"}}},
            {"transform": [{"filter": "datum.k=='ti'"}],
             "mark": {"type": "text", "align": "left", "baseline": "middle", "dy": 4, "font": "Liberation Serif", "fontSize": 88, "color": "#000"},
             "encoding": {"x": {"field": "c", "type": "quantitative", "axis": null}, "text": {"field": "t"}}},
            {"transform": [{"filter": "datum.k=='tb'"}],
             "mark": {"type": "text", "align": "left", "baseline": "middle", "dy": 4, "font": "Liberation Serif", "fontSize": 88, "fontWeight": "bold", "color": "#000"},
             "encoding": {"x": {"field": "c", "type": "quantitative", "axis": null}, "text": {"field": "t"}}}
          ]
        },
        {
          "resolve": {"scale": {"size": "independent"}, "axis": {"x": "independent"}},
          "layer": [
            {"data": {"name": "cellsC"}, "transform": [{"filter": "datum.k=='ph'"}],
             "mark": {"type": "text", "align": "center", "baseline": "middle", "dy": 4, "font": "Liberation Sans", "fontSize": 64, "fontWeight": "bold", "color": "#000"},
             "encoding": {"x": {"datum": 0, "type": "quantitative", "scale": {"domain": [-17.65, 17.65], "range": [2847, 4321], "clamp": true, "nice": false, "zero": false}, "axis": null}, "text": {"field": "t"}}},
            {"data": {"name": "cellsC"}, "transform": [{"filter": "datum.k=='fav'&&datum.c==0"}],
             "mark": {"type": "text", "align": "right", "baseline": "middle", "dy": 4, "dx": -33, "font": "Liberation Sans", "fontSize": 67, "color": "#000"},
             "encoding": {"x": {"datum": 0, "type": "quantitative", "axis": null}, "text": {"field": "t"}}},
            {"data": {"name": "cellsC"}, "transform": [{"filter": "datum.k=='fav'&&datum.c==1"}],
             "mark": {"type": "text", "align": "left", "baseline": "middle", "dy": 4, "dx": 29, "font": "Liberation Sans", "fontSize": 67, "color": "#000"},
             "encoding": {"x": {"datum": 0, "type": "quantitative", "axis": null}, "text": {"field": "t"}}},
            {"data": {"name": "cellsC"}, "transform": [{"filter": "datum.k=='zero'"}],
             "mark": {"type": "rule", "strokeWidth": 3.5, "color": "#333"},
             "encoding": {"x": {"datum": 0, "type": "quantitative", "axis": null}, "y2": {"field": "r2"}}},
            {"data": {"name": "studC"},
             "mark": {"type": "rule", "strokeWidth": 4.5, "color": "#000", "yOffset": -11},
             "encoding": {"x": {"field": "lo", "type": "quantitative",
               "axis": {"orient": "bottom", "offset": -209, "domain": false, "ticks": true, "tickSize": 48, "tickWidth": 4, "tickColor": "#000", "grid": false, "values": [-10, -5, 0, 5, 10], "labelExpr": "datum.value < 0 ? '-' + abs(datum.value) : '' + datum.value", "labelFont": "Liberation Sans", "labelFontSize": 67, "labelColor": "#000", "labelPadding": 2, "labelFlush": false, "labelOverlap": false, "title": null}},
               "x2": {"field": "hi"}}},
            {"data": {"name": "studC"},
             "mark": {"type": "point", "shape": "square", "filled": true, "opacity": 1, "color": "#00c000", "strokeWidth": 0, "yOffset": -11},
             "encoding": {"x": {"field": "est", "type": "quantitative",
               "axis": {"orient": "bottom", "offset": -185, "domain": true, "domainWidth": 5, "domainColor": "#000", "ticks": false, "labels": false, "grid": false, "title": null}},
               "size": {"field": "w", "type": "quantitative", "scale": {"type": "pow", "exponent": 1.8, "domain": [0, 100], "range": [300, 10000]}, "legend": null}}},
            {"data": {"name": "sumC"},
             "mark": {"type": "point", "shape": "M-1,0L0,-0.87L1,0L0,0.87Z", "filled": true, "opacity": 1, "color": "#000", "strokeWidth": 0, "size": 5776, "yOffset": -5},
             "encoding": {"x": {"field": "est", "type": "quantitative", "axis": null}}}
          ]
        }
      ]
    }
  ]
}
